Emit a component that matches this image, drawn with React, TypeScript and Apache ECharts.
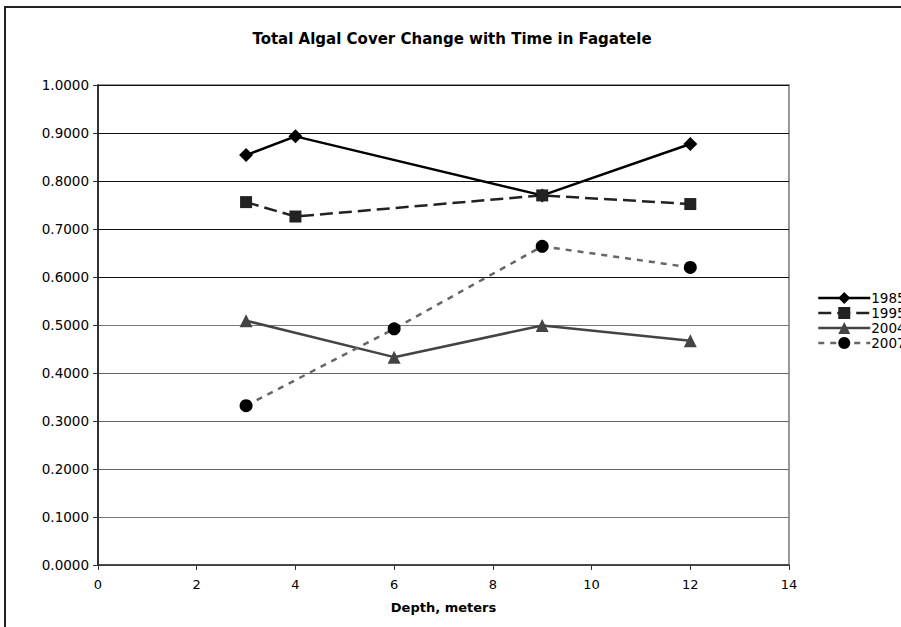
import React, { useEffect, useRef } from "react";
import * as echarts from "echarts";

const title = "Total Algal Cover Change with Time in Fagatele";
const xName = "Depth, meters";
const seriesNames = ["1985", "1995", "2004", "2007"];
const depths1985 = [3, 4, 9, 12];
const values1985 = [0.854, 0.893, 0.770, 0.877];
const depths1995 = [3, 4, 9, 12];
const values1995 = [0.756, 0.726, 0.770, 0.752];
const depths2004 = [3, 6, 9, 12];
const values2004 = [0.509, 0.433, 0.499, 0.467];
const depths2007 = [3, 6, 9, 12];
const values2007 = [0.332, 0.492, 0.664, 0.620];

const pairs = (xs: number[], ys: number[]) => xs.map((x, i) => [x, ys[i]]);

const FONT = "DejaVu Sans";

export default function App() {
  const ref = useRef<HTMLDivElement>(null);
  useEffect(() => {
    if (!ref.current) return;
    const chart = echarts.init(ref.current, null, { renderer: "svg" });
    const gridColors = ["#666", "#777", "#666", "#666", "#666", "#777", "#111", "#111", "#111", "#111", "#111"];
    chart.setOption({
      animation: false,
      backgroundColor: "#fff",
      title: {
        text: title,
        left: 447,
        textAlign: "center",
        top: 26,
        textStyle: { fontFamily: FONT, fontSize: 15, fontWeight: "bold", color: "#000" },
      },
      graphic: [
        {
          type: "rect",
          shape: { x: 5, y: 7, width: 2000, height: 2000 },
          style: { fill: "none", stroke: "#222", lineWidth: 2 },
          silent: true,
          z: -1,
        },
      ],
      grid: {
        left: 98,
        right: 112,
        top: 85,
        bottom: 62,
        show: true,
        borderColor: "#999",
        borderWidth: 2,
      },
      legend: {
        orient: "vertical",
        left: 812,
        top: 286,
        itemWidth: 52,
        itemHeight: 15,
        itemGap: 1,
        lineStyle: { width: 2.5 },
        textStyle: { fontFamily: FONT, fontSize: 13.5, color: "#000", padding: [0, 0, 0, -4] },
        data: seriesNames,
      },
      xAxis: {
        type: "value",
        min: 0,
        max: 14,
        interval: 2,
        name: xName,
        nameLocation: "middle",
        nameGap: 36,
        nameTextStyle: { fontFamily: FONT, fontSize: 13, fontWeight: "bold", color: "#000" },
        axisLine: { show: true, lineStyle: { color: "#333", width: 1.5 } },
        axisTick: { show: true, length: 5, lineStyle: { color: "#333" } },
        axisLabel: { fontFamily: FONT, fontSize: 13, color: "#000", margin: 13 },
        splitLine: { show: false },
      },
      yAxis: {
        type: "value",
        min: 0,
        max: 1,
        interval: 0.1,
        axisLine: { show: true, lineStyle: { color: "#111", width: 1.5 } },
        axisTick: { show: true, length: 5, lineStyle: { color: "#333" } },
        axisLabel: {
          fontFamily: FONT,
          fontSize: 13.5,
          color: "#000",
          margin: 9,
          formatter: (v: number) => v.toFixed(4),
        },
        splitLine: { show: true, lineStyle: { color: gridColors, width: 1.2 } },
      },
      series: [
        {
          name: "1985",
          type: "line",
          data: pairs(depths1985, values1985),
          symbol: "diamond",
          symbolSize: 14,
          itemStyle: { color: "#000" },
          lineStyle: { color: "#000", width: 2.5 },
        },
        {
          name: "1995",
          type: "line",
          data: pairs(depths1995, values1995),
          symbol: "rect",
          symbolSize: 12,
          itemStyle: { color: "#222" },
          lineStyle: { color: "#222", width: 2.5, type: [13, 6] },
        },
        {
          name: "2004",
          type: "line",
          data: pairs(depths2004, values2004),
          symbol: "triangle",
          symbolSize: 13,
          itemStyle: { color: "#444" },
          lineStyle: { color: "#444", width: 2.5 },
        },
        {
          name: "2007",
          type: "line",
          data: pairs(depths2007, values2007),
          symbol: "circle",
          symbolSize: 13,
          itemStyle: { color: "#000" },
          lineStyle: { color: "#666", width: 2.5, type: [6, 6] },
        },
      ],
    });
    return () => chart.dispose();
  }, []);
  return (
    <div
      ref={ref}
      style={{ position: "fixed", left: 0, top: 0, width: 901, height: 627 }}
    />
  );
}
